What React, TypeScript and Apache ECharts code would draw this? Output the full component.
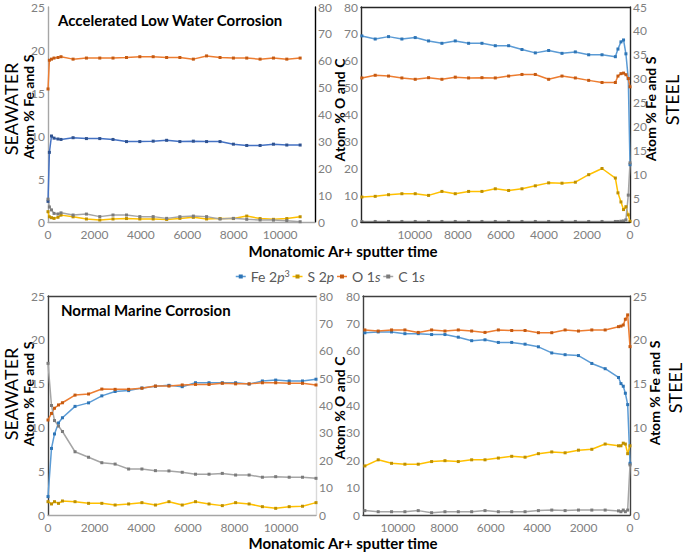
import React, { useEffect, useRef } from 'react';
import * as echarts from 'echarts';

// ---------- Top-left: Accelerated Low Water Corrosion (seawater side) ----------
const tlTime = [0, 60, 150, 260, 430, 560, 1080, 1655, 2230, 2800, 3380, 3955, 4530, 5110, 5680, 6260, 6830, 7410, 7985, 8560, 9135, 9710, 10285, 10860];
const tlFe = [2.4, 8.1, 10.0, 9.75, 9.65, 9.6, 9.8, 9.7, 9.7, 9.6, 9.35, 9.35, 9.4, 9.5, 9.35, 9.4, 9.35, 9.35, 9.05, 8.9, 8.9, 9.05, 8.95, 8.95];
const tlS = [1.2, 0.6, 0.5, 0.42, 0.55, 0.8, 0.6, 0.35, 0.23, 0.35, 0.4, 0.35, 0.35, 0.3, 0.42, 0.54, 0.35, 0.4, 0.4, 0.69, 0.4, 0.31, 0.4, 0.61];
const tlO = [49.5, 60.2, 60.6, 61.0, 61.2, 61.5, 60.6, 61.0, 61.0, 61.0, 61.2, 61.5, 61.5, 61.2, 61.2, 60.6, 61.8, 61.2, 61.0, 61.0, 60.6, 61.0, 60.6, 61.0];
const tlC = [8.5, 5.6, 4.5, 3.2, 3.0, 3.4, 2.6, 2.95, 2.0, 2.6, 2.6, 2.0, 2.0, 1.35, 1.97, 2.2, 2.0, 1.1, 1.35, 1.0, 0.74, 0.7, 0.5, 0.1];

// ---------- Top-right: Accelerated Low Water Corrosion (steel side) ----------
const trTime = [12460, 11840, 11220, 10600, 9980, 9360, 8740, 8120, 7500, 6880, 6260, 5640, 5020, 4400, 3780, 3160, 2540, 1920, 1300, 680, 560, 420, 300, 190, 80, 0];
const trFe = [38.95, 38.3, 38.8, 38.3, 38.6, 37.9, 37.4, 37.9, 37.4, 37.4, 36.9, 36.9, 36.1, 35.4, 35.9, 35.3, 35.6, 35.0, 35.0, 34.6, 36.2, 37.7, 38.1, 35.2, 30.0, 12.0];
const trS = [5.23, 5.37, 5.71, 5.92, 5.92, 5.57, 6.4, 5.92, 6.4, 6.4, 6.95, 6.6, 6.95, 7.57, 8.19, 8.12, 8.33, 9.9, 11.2, 9.2, 6.1, 4.2, 2.6, 3.2, 1.5, 0.1];
const trO = [53.6, 54.6, 54.3, 53.6, 53.1, 53.7, 53.1, 53.9, 53.6, 53.7, 53.6, 54.3, 54.9, 54.9, 53.1, 54.3, 53.6, 52.7, 51.9, 51.9, 54.3, 55.2, 55.4, 54.8, 53.4, 50.3];
const trC = [0.2, 0.2, 0.2, 0.2, 0.2, 0.2, 0.2, 0.2, 0.2, 0.2, 0.2, 0.2, 0.2, 0.2, 0.2, 0.2, 0.2, 0.2, 0.2, 0.2, 0.2, 0.3, 0.4, 0.8, 10, 22];

// ---------- Bottom-left: Normal Marine Corrosion (seawater side) ----------
const blTime = [0, 150, 280, 450, 620, 1160, 1740, 2310, 2880, 3460, 4030, 4610, 5190, 5760, 6330, 6910, 7480, 8050, 8630, 9200, 9770, 10350, 10920, 11500];
const blFe = [2.1, 7.6, 9.25, 10.5, 11.1, 12.4, 12.8, 13.6, 14.1, 14.2, 14.5, 14.7, 14.8, 14.65, 15.1, 15.1, 15.1, 15.1, 14.95, 15.3, 15.4, 15.3, 15.3, 15.5];
const blS = [1.52, 1.26, 1.52, 1.33, 1.6, 1.52, 1.33, 1.33, 1.14, 1.26, 1.41, 1.14, 1.52, 1.14, 1.52, 1.26, 1.07, 1.41, 1.26, 0.95, 0.76, 0.95, 1.0, 1.41];
const blO = [34.7, 37.1, 39, 40.2, 41, 43.8, 44.2, 46, 45.9, 45.9, 46.3, 47.1, 47.1, 47.5, 47.7, 47.7, 48.1, 47.9, 47.9, 48.3, 48.3, 48.1, 48.1, 47.5];
const blC = [55.4, 40, 34.5, 32.5, 30.5, 23.1, 21.1, 19.1, 18.6, 16.8, 16.8, 16.2, 16.1, 15.6, 14.9, 14.9, 15.2, 14.6, 14.6, 13.8, 14.0, 13.8, 13.8, 13.4];

// ---------- Bottom-right: Normal Marine Corrosion (steel side) ----------
const brTime = [11420, 10845, 10270, 9695, 9120, 8545, 7970, 7395, 6820, 6245, 5670, 5095, 4520, 3945, 3370, 2795, 2220, 1645, 1070, 495, 390, 290, 200, 100, 0];
const brFe = [20.8, 20.9, 20.9, 20.7, 20.7, 20.6, 20.6, 20.3, 19.9, 20.0, 19.7, 19.7, 19.5, 19.2, 18.5, 18.3, 18.2, 17.3, 16.7, 15.7, 15.0, 14.7, 13.9, 12.6, 5.9];
const brS = [5.6, 6.3, 5.9, 5.8, 5.8, 6.1, 6.2, 6.1, 6.3, 6.3, 6.5, 6.7, 6.6, 7.0, 7.2, 7.1, 7.4, 7.5, 8.1, 7.9, 7.9, 8.2, 8.1, 7.0, 7.9];
const brO = [67.6, 67.2, 67.6, 67.6, 66.7, 67.6, 67.2, 67.6, 67.2, 66.7, 67.6, 67.4, 67.4, 66.6, 66.6, 67.6, 67.2, 67.6, 67.6, 68.8, 69.0, 69.4, 71.5, 73.1, 61.5];
const brC = [1.6, 1.2, 1.2, 1.2, 1.6, 0.85, 1.2, 1.2, 1.2, 1.6, 1.2, 1.2, 1.2, 1.6, 1.8, 1.6, 1.8, 1.8, 1.8, 1.5, 1.2, 1.8, 1.2, 1.8, 18.3];

const seriesNames = ['Fe 2p3', 'S 2p', 'O 1s', 'C 1s'];
const FONT = 'Lato, "Open Sans", sans-serif';

const pairs = (t: number[], v: number[]) => t.map((x, i) => [x, v[i]]);

const mk = (name: string, color: string, mark: string, xi: number, yi: number, t: number[], v: number[]) => ({
  type: 'line',
  name,
  xAxisIndex: xi,
  yAxisIndex: yi,
  data: pairs(t, v),
  symbol: 'rect',
  symbolSize: 3,
  showSymbol: true,
  lineStyle: { color, width: 1.5 },
  itemStyle: { color: mark },
  emphasis: { disabled: true },
  silent: true,
  z: 2,
});

const BLUE_D = '#4472C4', BLUE_DM = '#2f528f';
const BLUE = '#5B9BD5', BLUE_M = '#2e75b6';
const YEL = '#FFC000', YEL_M = '#bf9000';
const ORA = '#ED7D31', ORA_M = '#c55a11';
const GRY = '#A5A5A5', GRY_M = '#7b7b7b';

const labelStyle = { color: '#808080', fontSize: 12, fontFamily: FONT };

const yAx = (grid: number, max: number, interval: number, pos: string, lineColor: string, extra: any = {}) => ({
  type: 'value', gridIndex: grid, min: 0, max, interval, position: pos,
  axisLine: { show: true, onZero: false, lineStyle: { color: lineColor, width: 1.4 } },
  axisTick: { show: false },
  splitLine: { show: false },
  axisLabel: { ...labelStyle, margin: 3, ...extra },
});

const xAx = (grid: number, max: number, inverse: boolean, lineColor: string) => ({
  type: 'value', gridIndex: grid, min: 0, max, interval: 2000, inverse, position: 'bottom',
  axisLine: { show: true, onZero: false, lineStyle: { color: lineColor, width: 1.4 } },
  axisTick: { show: false },
  splitLine: { show: false },
  axisLabel: {
    ...labelStyle, margin: 6,
    formatter: (v: number) => (v <= 10000 ? String(v) : ''),
  },
});

const topAx = (grid: number, color: string) => ({
  type: 'value', gridIndex: grid, min: 0, max: 1, position: 'top',
  axisLine: { show: true, onZero: false, lineStyle: { color, width: 1.4 } },
  axisTick: { show: false }, axisLabel: { show: false }, splitLine: { show: false },
});

const rotText = (text: string, x: number, y: number, size: number, bold: boolean) => ({
  type: 'text', x, y, rotation: Math.PI / 2, silent: true,
  style: {
    text, fontSize: size, fontFamily: FONT, fontWeight: bold ? 'bold' : 'normal',
    fill: '#000', align: 'center', verticalAlign: 'middle',
  },
});

const plainText = (text: string, x: number, y: number, size: number, align = 'left') => ({
  type: 'text', x, y, silent: true,
  style: { text, fontSize: size, fontFamily: FONT, fontWeight: 'bold', fill: '#000', align, verticalAlign: 'middle' },
});

export default function App() {
  const ref = useRef<HTMLDivElement>(null);
  useEffect(() => {
    if (!ref.current) return;
    const chart = echarts.init(ref.current, undefined, { renderer: 'svg' });
    const option: any = {
      animation: false,
      backgroundColor: '#ffffff',
      grid: [
        { left: 48, top: 7, width: 267, height: 215, containLabel: false, outerBoundsMode: 'none' },
        { left: 361, top: 7, width: 269, height: 215, containLabel: false, outerBoundsMode: 'none' },
        { left: 48, top: 296, width: 268, height: 219, containLabel: false, outerBoundsMode: 'none' },
        { left: 363, top: 296, width: 267, height: 219, containLabel: false, outerBoundsMode: 'none' },
      ],
      xAxis: [
        xAx(0, 11500, false, '#a6a6a6'),
        { ...xAx(1, 12500, true, '#262626'), z: 3 },
        xAx(2, 11500, false, '#a6a6a6'),
        { ...xAx(3, 11500, true, '#404040'), z: 3 },
        topAx(1, '#262626'),
        topAx(2, '#404040'),
        topAx(3, '#404040'),
      ],
      yAxis: [
        yAx(0, 25, 5, 'left', '#a6a6a6'),
        yAx(0, 80, 10, 'right', '#000000'),
        yAx(1, 80, 10, 'left', '#262626'),
        yAx(1, 45, 5, 'right', '#262626', { padding: [8, 0, 0, 0] }),
        yAx(2, 25, 5, 'left', '#404040'),
        yAx(2, 80, 10, 'right', '#d9d9d9'),
        yAx(3, 80, 10, 'left', '#404040'),
        yAx(3, 25, 5, 'right', '#404040'),
      ],
      legend: {
        left: 230, top: 264, itemWidth: 10, itemHeight: 5, itemGap: 2,
        data: [
          { name: seriesNames[0], itemStyle: { color: BLUE_M }, lineStyle: { color: BLUE, width: 1.5 } },
          { name: seriesNames[1], itemStyle: { color: YEL_M }, lineStyle: { color: YEL, width: 1.5 } },
          { name: seriesNames[2], itemStyle: { color: ORA_M }, lineStyle: { color: ORA, width: 1.5 } },
          { name: seriesNames[3], itemStyle: { color: GRY_M }, lineStyle: { color: GRY, width: 1.5 } },
        ],
        selectedMode: false,
        formatter: (n: string) => {
          if (n === 'Fe 2p3') return '{a|Fe 2}{i|p}{s|3}';
          if (n === 'S 2p') return '{a|S 2}{i|p}';
          if (n === 'O 1s') return '{a|O 1}{i|s}';
          return '{a|C 1}{i|s}';
        },
        textStyle: {
          color: '#595959', fontSize: 14, fontFamily: FONT,
          rich: {
            a: { color: '#595959', fontSize: 14, fontFamily: FONT },
            i: { color: '#595959', fontSize: 14, fontFamily: FONT, fontStyle: 'italic' },
            s: { color: '#595959', fontSize: 9, fontFamily: FONT, verticalAlign: 'top', padding: [0, 0, 6, 0] },
          },
        },
      },
      series: [
        mk(seriesNames[0], BLUE_D, BLUE_DM, 0, 0, tlTime, tlFe),
        mk(seriesNames[1], YEL, YEL_M, 0, 0, tlTime, tlS),
        mk(seriesNames[2], ORA, ORA_M, 0, 1, tlTime, tlO),
        mk(seriesNames[3], GRY, GRY_M, 0, 1, tlTime, tlC),

        mk(seriesNames[0], BLUE, BLUE_M, 1, 3, trTime, trFe),
        mk(seriesNames[1], YEL, YEL_M, 1, 3, trTime, trS),
        mk(seriesNames[2], ORA, ORA_M, 1, 2, trTime, trO),
        mk(seriesNames[3], GRY, GRY_M, 1, 2, trTime, trC),

        mk(seriesNames[0], BLUE, BLUE_M, 2, 4, blTime, blFe),
        mk(seriesNames[1], YEL, YEL_M, 2, 4, blTime, blS),
        mk(seriesNames[2], ORA, ORA_M, 2, 5, blTime, blO),
        mk(seriesNames[3], GRY, GRY_M, 2, 5, blTime, blC),

        mk(seriesNames[0], BLUE, BLUE_M, 3, 7, brTime, brFe),
        mk(seriesNames[1], YEL, YEL_M, 3, 7, brTime, brS),
        mk(seriesNames[2], ORA, ORA_M, 3, 6, brTime, brO),
        mk(seriesNames[3], GRY, GRY_M, 3, 6, brTime, brC),
      ],
      graphic: [
        plainText('Accelerated Low Water Corrosion', 58, 20, 15),
        plainText('Normal Marine Corrosion', 61, 310, 15),
        plainText('Monatomic Ar+ sputter time', 343, 251, 15, 'center'),
        plainText('Monatomic Ar+ sputter time', 343, 543, 15, 'center'),
        rotText('SEAWATER', 11, 109, 18, false),
        rotText('Atom % Fe and S', 28, 107, 14, true),
        rotText('Atom % O and C', 339, 110, 14, true),
        rotText('Atom % Fe and S', 650, 109, 14, true),
        rotText('STEEL', 672, 100, 18, false),
        rotText('SEAWATER', 11, 394, 18, false),
        rotText('Atom % Fe and S', 28, 394, 14, true),
        rotText('Atom % O and C', 339, 408, 14, true),
        rotText('Atom % Fe and S', 654, 393, 14, true),
        rotText('STEEL', 675, 388, 18, false),
      ],
    };
    chart.setOption(option);
    return () => chart.dispose();
  }, []);
  return (
    <div
      ref={ref}
      style={{ position: 'fixed', left: 0, top: 0, width: 685, height: 552, background: '#fff' }}
    />
  );
}
